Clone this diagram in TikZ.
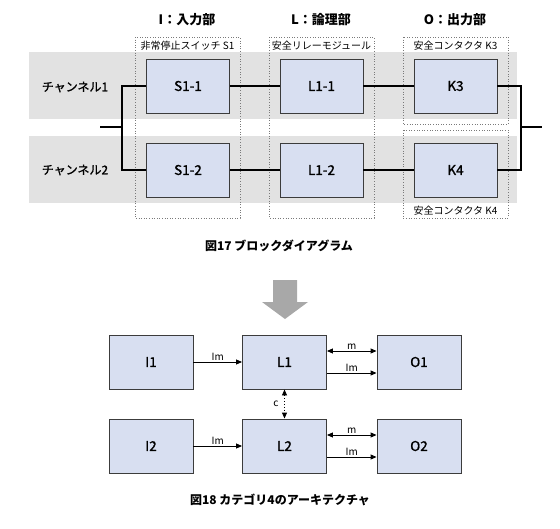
\documentclass[tikz,border=0pt]{standalone}
\usepackage{fontspec}
\setmainfont{Noto Sans CJK JP}
\newfontfamily\medfont[FakeBold=1.2]{Noto Sans CJK JP}
\usetikzlibrary{arrows.meta}
\definecolor{boxfill}{HTML}{D8DFF1}
\definecolor{boxline}{HTML}{3C3C3C}
\definecolor{band}{HTML}{E2E2E2}
\definecolor{dotline}{HTML}{7A7A7A}
\definecolor{arrowgray}{HTML}{A8A8A8}
\tikzset{
  blk/.style={draw=boxline, line width=0.9pt, fill=boxfill, minimum width=83pt, minimum height=54pt, inner sep=0pt, font=\fontsize{13.5}{15}\medfont},
  grp/.style={draw=dotline, dotted, line width=0.6pt},
  conn/.style={line width=1.8pt, black},
  sig/.style={line width=0.9pt, black, -{Triangle[length=6pt,width=5pt]}},
  dsig/.style={line width=0.9pt, black, {Triangle[length=6pt,width=5pt]}-{Triangle[length=6pt,width=5pt]}},
  small/.style={font=\fontsize{10}{12}\selectfont, inner sep=1.5pt},
  ttl/.style={font=\fontsize{13}{15}\selectfont\bfseries},
  figcap/.style={font=\fontsize{12}{14}\selectfont\bfseries},
  chl/.style={font=\fontsize{12}{14}\medfont},
}
\begin{document}
\begin{tikzpicture}[x=1pt,y=-1pt]
\useasboundingbox (0,0) rectangle (560,528);
% bands
\fill[band] (29,52) rectangle (517,119);
\fill[band] (29,136) rectangle (517,203);
% group boxes
\draw[grp] (135,37) rectangle (240,218);
\draw[grp] (269,37) rectangle (374,218);
\draw[grp] (403,37) rectangle (508,124);
\draw[grp] (403,130) rectangle (508,218);
% titles
\node[ttl] (tI) at (187,20) {I：入力部};
\node[ttl] (tL) at (321,20) {L：論理部};
\node[ttl] (tO) at (455,20) {O：出力部};
% group labels
\node[small] (gS) at (187.5,46) {非常停止スイッチ S1};
\node[small] (gL) at (321.5,46) {安全リレーモジュール};
\node[small] (gK3) at (455.5,46) {安全コンタクタ K3};
\node[small] (gK4) at (455.5,211) {安全コンタクタ K4};
% channel labels
\node[chl] (ch1) at (75,87) {チャンネル1};
\node[chl] (ch2) at (75,170) {チャンネル2};
% blocks
\node[blk] (S11) at (188,86) {S1-1};
\node[blk] (S12) at (188,170) {S1-2};
\node[blk] (L11) at (321.5,86) {L1-1};
\node[blk] (L12) at (321.5,170) {L1-2};
\node[blk] (K3) at (455.5,86) {K3};
\node[blk] (K4) at (455.5,170) {K4};
% connectors
\coordinate (in) at (100,127);
\coordinate (jl) at (122,127);
\coordinate (jr) at (521,127);
\coordinate (out) at (542,127);
\draw[conn] (in) -- (jl);
\draw[conn] (S11.west) -| (jl) |- (S12.west);
\draw[conn] (S11.east) -- (L11.west);
\draw[conn] (S12.east) -- (L12.west);
\draw[conn] (L11.east) -- (K3.west);
\draw[conn] (L12.east) -- (K4.west);
\draw[conn] (K3.east) -| (jr) |- (K4.east);
\draw[conn] (jr) -- (out);
% caption 17
\node[figcap] (c17) at (279,246) {図17 ブロックダイアグラム};
% big gray arrow
\fill[arrowgray] (273,280) -- (297,280) -- (297,302) -- (308,302) -- (285,319) -- (262,302) -- (273,302) -- cycle;
% bottom blocks
\node[blk, minimum width=84pt] (I1) at (151,362) {I1};
\node[blk, minimum width=84pt] (L1) at (284.5,362) {L1};
\node[blk, minimum width=84pt] (O1) at (419,362) {O1};
\node[blk, minimum width=84pt] (I2) at (151,446) {I2};
\node[blk, minimum width=84pt] (L2) at (284.5,446) {L2};
\node[blk, minimum width=84pt] (O2) at (419,446) {O2};
% signals
\draw[sig] (I1.east) -- node[small, above] {Im} (L1.west);
\draw[sig] (I2.east) -- node[small, above] {Im} (L2.west);
\draw[dsig] ([yshift=11pt]L1.east) -- node[small, above] {m} ([yshift=11pt]O1.west);
\draw[sig] ([yshift=-11pt]L1.east) -- node[small, above] {Im} ([yshift=-11pt]O1.west);
\draw[dsig] ([yshift=11pt]L2.east) -- node[small, above] {m} ([yshift=11pt]O2.west);
\draw[sig] ([yshift=-11pt]L2.east) -- node[small, above] {Im} ([yshift=-11pt]O2.west);
\draw[dsig, dotted] (L1.south) -- node[small, left=4pt] {c} (L2.north);
% caption 18
\node[figcap] (c18) at (280,500) {図18 カテゴリ4のアーキテクチャ};
\end{tikzpicture}
\end{document}
